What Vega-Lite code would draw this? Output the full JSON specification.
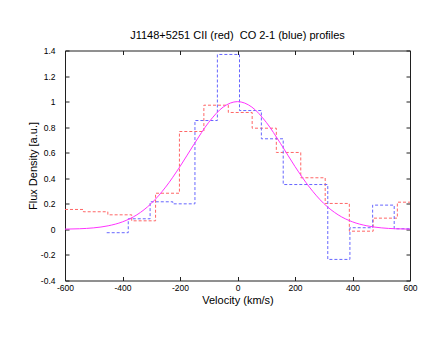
{
  "$schema": "https://vega.github.io/schema/vega-lite/v6.json",
  "autosize": "none",
  "width": 345,
  "height": 230,
  "padding": {"left": 65, "top": 50.5, "right": 26, "bottom": 56.5},
  "background": "white",
  "config": {
    "view": {"stroke": "#202020", "strokeWidth": 1},
    "font": "Liberation Sans",
    "axis": {"grid": false, "domain": false, "tickColor": "#202020", "labelColor": "#000000", "titleColor": "#000000", "labelFont": "Liberation Sans", "titleFont": "Liberation Sans", "titleFontWeight": "normal"}
  },
  "title": {"text": "J1148+5251 CII (red)\u00a0 CO 2-1 (blue) profiles", "fontSize": 11, "fontWeight": "normal", "font": "Liberation Sans", "color": "#000000", "offset": 6},
  "datasets": {
    "cii": [
      {"v": -600, "f": 0.156}, {"v": -536, "f": 0.138}, {"v": -451, "f": 0.114}, {"v": -368, "f": 0.067},
      {"v": -285, "f": 0.283}, {"v": -202, "f": 0.766}, {"v": -117, "f": 0.972}, {"v": -32, "f": 0.915},
      {"v": 51, "f": 0.792}, {"v": 135, "f": 0.602}, {"v": 220, "f": 0.404}, {"v": 305, "f": 0.203},
      {"v": 389, "f": -0.014}, {"v": 472, "f": 0.088}, {"v": 556, "f": 0.213}, {"v": 600, "f": 0.213}
    ],
    "co": [
      {"v": -455, "f": -0.026}, {"v": -380, "f": 0.083}, {"v": -304, "f": 0.216}, {"v": -225, "f": 0.2},
      {"v": -148, "f": 0.852}, {"v": -70, "f": 1.369}, {"v": 7, "f": 0.93}, {"v": 83, "f": 0.709},
      {"v": 159, "f": 0.351}, {"v": 314, "f": -0.235}, {"v": 391, "f": 0.013}, {"v": 470, "f": 0.19},
      {"v": 545, "f": 0.005}, {"v": 600, "f": 0.005}
    ],
    "fit": [
      {"v": -600, "f": 0.002}, {"v": -550, "f": 0.005}, {"v": -500, "f": 0.012}, {"v": -450, "f": 0.028},
      {"v": -400, "f": 0.059}, {"v": -350, "f": 0.114}, {"v": -300, "f": 0.203}, {"v": -250, "f": 0.331},
      {"v": -200, "f": 0.492}, {"v": -150, "f": 0.671}, {"v": -100, "f": 0.838}, {"v": -50, "f": 0.957},
      {"v": 0, "f": 1.0}, {"v": 50, "f": 0.957}, {"v": 100, "f": 0.838}, {"v": 150, "f": 0.671},
      {"v": 200, "f": 0.492}, {"v": 250, "f": 0.331}, {"v": 300, "f": 0.203}, {"v": 350, "f": 0.114},
      {"v": 400, "f": 0.059}, {"v": 450, "f": 0.028}, {"v": 500, "f": 0.012}, {"v": 550, "f": 0.005},
      {"v": 600, "f": 0.002}
    ]
  },
  "resolve": {"axis": {"x": "independent", "y": "independent"}},
  "layer": [
    {
      "data": {"name": "cii"},
      "mark": {"type": "line", "interpolate": "step-after", "color": "#ff6666", "strokeWidth": 1, "strokeDash": [3, 2], "clip": true},
      "encoding": {
        "x": {"field": "v", "type": "quantitative", "scale": {"domain": [-600, 600], "nice": false, "zero": false},
          "axis": {"orient": "bottom", "values": [-600, -400, -200, 0, 200, 400, 600], "tickSize": -4, "labelPadding": 7, "labelFontSize": 8.5, "labelExpr": "'' + datum.value", "title": "Velocity (km/s)", "titleFontSize": 11, "titlePadding": 2, "labelFlush": false}},
        "y": {"field": "f", "type": "quantitative", "scale": {"domain": [-0.4, 1.4], "nice": false, "zero": false},
          "axis": {"orient": "left", "values": [-0.4, -0.2, 0, 0.2, 0.4, 0.6, 0.8, 1, 1.2, 1.4], "tickSize": -4, "labelPadding": 14, "labelFontSize": 8.5, "labelExpr": "'' + datum.value", "title": "Flux Density [a.u.]", "titleFontSize": 11, "titlePadding": 2, "labelFlush": false}}
      }
    },
    {
      "data": {"name": "co"},
      "mark": {"type": "line", "interpolate": "step-after", "color": "#6666ff", "strokeWidth": 1, "strokeDash": [3, 2], "clip": true},
      "encoding": {
        "x": {"field": "v", "type": "quantitative", "axis": null},
        "y": {"field": "f", "type": "quantitative", "axis": null}
      }
    },
    {
      "data": {"name": "fit"},
      "mark": {"type": "line", "interpolate": "monotone", "color": "#ff33ff", "strokeWidth": 1, "clip": true},
      "encoding": {
        "x": {"field": "v", "type": "quantitative",
          "axis": {"orient": "top", "values": [-600, -400, -200, 0, 200, 400, 600], "tickSize": -4, "labels": false, "title": null}},
        "y": {"field": "f", "type": "quantitative",
          "axis": {"orient": "right", "values": [-0.4, -0.2, 0, 0.2, 0.4, 0.6, 0.8, 1, 1.2, 1.4], "tickSize": -4, "labels": false, "title": null}}
      }
    }
  ]
}
